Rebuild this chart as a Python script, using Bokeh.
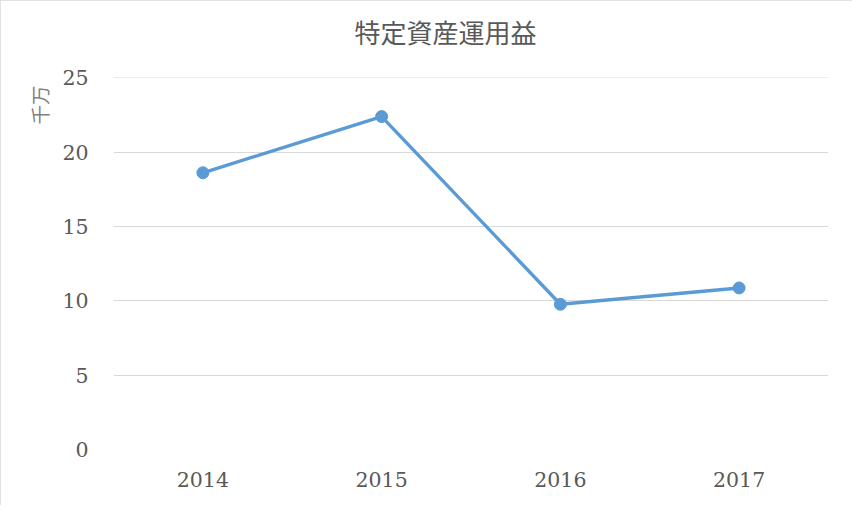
from bokeh.plotting import figure
from bokeh.models import Range1d, Title, ColumnDataSource
from bokeh.embed import file_html
from bokeh.resources import INLINE

years = ["2014", "2015", "2016", "2017"]
values = [18.62, 22.4, 9.77, 10.87]
y_ticks = [0, 5, 10, 15, 20, 25]
title_text = "特定資産運用益"
unit_text = "千万"

SERIF = "DejaVu Serif, Noto Sans CJK JP"
TEXT = "#595959"

src = ColumnDataSource(dict(x=years, y=values))

p = figure(width=852, height=505, x_range=years, y_range=Range1d(0, 25.03),
           output_backend="svg", toolbar_location=None, tools="",
           min_border_left=113, min_border_right=24,
           min_border_top=77, min_border_bottom=56)
p.outline_line_color = None
p.border_fill_color = "white"
p.background_fill_color = "white"
p.styles = {"outline": "2px solid #d9d9d9", "outline-offset": "-2px"}

p.line("x", "y", source=src, line_color="#5b9bd5", line_width=3.4)
p.scatter("x", "y", source=src, size=12, fill_color="#5b9bd5", line_color="#5b9bd5")

p.xgrid.grid_line_color = None
p.ygrid.grid_line_color = "#d9d9d9"
p.ygrid.grid_line_width = 1
p.yaxis.ticker = y_ticks

for ax in (p.xaxis, p.yaxis):
    ax.axis_line_color = None
    ax.major_tick_line_color = None
    ax.minor_tick_line_color = None
    ax.major_tick_out = 0
    ax.major_tick_in = 0
    ax.major_label_text_font = SERIF
    ax.major_label_text_font_size = "20.5px"
    ax.major_label_text_color = TEXT
p.yaxis.major_label_standoff = 25
p.xaxis.major_label_standoff = 22

# spacer between plot area and title, then the title itself
p.add_layout(Title(text=" ", text_font_size="23px", standoff=0), "above")
p.add_layout(Title(text=title_text, text_font="Noto Sans CJK JP",
                   text_font_size="26px", text_font_style="normal",
                   text_color=TEXT, align="left", offset=241, standoff=0),
             "above")

p.add_layout(Title(text=unit_text, text_font="Noto Sans CJK JP",
                   text_font_size="19.5px", text_font_style="normal",
                   text_color="#7f7f7f", align="right", offset=8,
                   standoff=11), "left")

open("out.html", "w").write(file_html(p, INLINE))
